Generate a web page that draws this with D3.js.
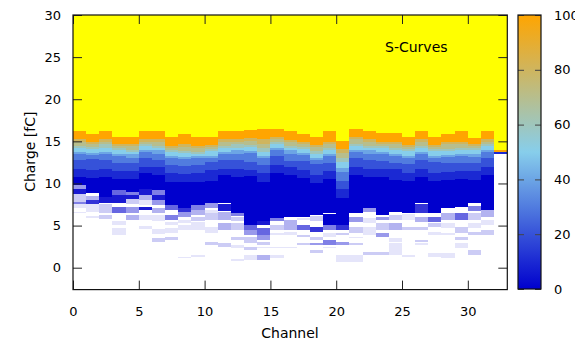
<!DOCTYPE html>
<html>
<head>
<meta charset="utf-8">
<script src="https://cdn.jsdelivr.net/npm/d3@7"></script>
<style>
  body { margin: 0; background: #fff; }
  text { font-family: "DejaVu Sans", sans-serif; fill: #000; }
</style>
</head>
<body>
<svg id="chart" width="575" height="344"></svg>
<script>
// channels on the x axis
const channels = [0,1,2,3,4,5,6,7,8,9,10,11,12,13,14,15,16,17,18,19,20,21,22,23,24,25,26,27,28,29,30,31,32];

// charge [fC] where the channel stops being fully efficient (yellow above)
const satCharge = [16.23,15.88,16.23,15.48,15.48,16.23,16.23,15.48,15.88,15.48,15.55,16.23,16.23,16.35,16.47,16.47,
  16.2,15.88,15.55,16.23,15.08,16.47,16.23,15.96,15.96,15.55,16.23,15.55,15.88,16.23,15.45,16.23,13.98];

// occupancy read every 0.25 fC going down from satCharge, one char per step: '0'..'9' = 0..90 %, 'A' = 100 %
const rowStep = 0.25;
const rowCodes = [
  "AAAA8776554333222211110",
  "AAAA876554332222211110",
  "AAAA8766554333222211110",
  "AAA876554333222211110",
  "AAA877654433222211110",
  "AAAA876554333222211100",
  "AAAA8776544333222111100",
  "AAAA876554333222211110",
  "AAAAA8776554333222211110",
  "AAAA877654333222211110",
  "AAAA876554332222111110",
  "AAAA8776554333222211100",
  "AAAA8766544333222211110",
  "AAAA8776554333322221110",
  "AAAAA887766554333222211110",
  "AAAA876554333222211110",
  "AAAA877654433322211110",
  "AAAA876554333222211110",
  "AAAA8776554332222211110",
  "AAAAA8776554333222211110",
  "AAAA887766555443333222211110",
  "AAAA8776554333222211110",
  "AAAA8776544333222211110",
  "AAAA876554333222211110",
  "AAAA8776554333222111110",
  "AAAA876554333222211110",
  "AAAA8776554333222211110",
  "AAAA876554332222211110",
  "AAAA8776554333222211110",
  "AAAAA8776554333222211110",
  "AAA876554333222211110",
  "AAAA876554333222211110",
  "A1"
];

// charge where the low-occupancy (0 %) band ends
const floorCharge = [9.8,8.9,8.4,9.2,9.0,9.4,9.2,7.4,7.1,7.45,7.65,7.73,6.5,5.1,5.5,5.9,6.0,6.0,6.26,6.45,5.07,
  6.46,7.05,6.26,6.66,6.46,7.65,6.46,7.05,7.25,7.65,6.86,13.48];

// sparse noise hits below threshold: [charge top, charge bottom, hits (0-10)]
const noiseHits = [
  [[9.8,9.4,4],[9.4,8.8,9],[8.75,8.2,2],[8.2,7.85,2],[7.85,7.55,5],[7.55,7.1,1],[6.6,6.45,1]],
  [[8.55,8.05,3],[8.05,7.55,8],[7.55,6.6,1],[6.1,5.9,1]],
  [[8.4,7.65,9],[7.55,7.05,2],[7.05,6.5,2],[6.25,5.8,2]],
  [[9.2,8.6,6],[8.6,7.7,9],[7.2,6.5,6],[5.6,5.1,1],[4.7,3.85,1]],
  [[9.0,8.6,5],[8.6,8.2,9],[8.2,7.6,2],[7.25,6.5,4],[6.3,5.7,3]],
  [[9.3,8.6,9],[8.6,8.05,3],[8.04,7.45,1],[7.25,6.86,9],[6.26,5.67,1],[4.9,4.6,1]],
  [[9.2,8.6,5],[8.6,8.0,9],[8.0,7.4,4],[7.05,6.45,3],[6.3,5.5,1],[4.6,4.0,1],[3.5,3.1,2]],
  [[7.4,6.9,6],[6.26,5.67,5],[5.47,5.07,1],[4.68,4.09,1],[3.69,3.29,2]],
  [[7.1,6.6,8],[6.6,6.05,4],[5.67,5.27,1],[5.07,4.48,1],[1.3,1.1,1]],
  [[7.45,6.9,5],[6.9,6.3,3],[6.0,5.5,2],[5.47,4.48,1],[1.5,1.3,1]],
  [[7.65,7.05,4],[6.9,6.5,1],[6.46,5.67,2],[4.88,4.09,1],[3.1,2.7,2]],
  [[7.55,6.7,9],[6.66,5.67,3],[5.27,4.48,3],[2.9,2.5,2]],
  [[6.48,6.1,5],[6.0,5.6,2],[5.27,4.48,2],[3.69,3.29,2],[2.7,2.3,1],[1.0,0.8,1]],
  [[5.07,4.5,6],[4.5,3.9,4],[3.69,2.9,2],[2.5,2.1,2],[1.5,0.9,1]],
  [[5.5,5.1,9],[4.68,3.89,6],[3.89,3.29,4],[3.1,2.7,2],[2.5,2.3,1],[1.51,0.92,3]],
  [[5.87,5.5,5],[5.07,4.48,2],[4.09,3.89,1],[2.5,2.3,1],[1.51,1.12,1]],
  [[5.67,4.48,3],[4.28,3.89,1],[2.5,2.3,1]],
  [[5.9,5.67,1],[5.07,4.48,6],[3.89,3.69,2],[2.9,2.7,2]],
  [[6.1,5.5,2],[4.88,4.28,8],[3.69,3.29,2],[2.9,2.7,4],[2.11,1.71,2]],
  [[6.35,5.1,10],[5.07,4.48,5],[4.09,3.69,1],[3.29,2.7,5],[2.5,2.3,1]],
  [[5.07,4.48,8],[4.09,3.89,2],[3.1,2.7,4],[1.51,0.72,1]],
  [[6.06,5.47,4],[4.88,4.09,2],[3.69,3.49,1],[2.9,2.7,2],[1.51,0.72,1]],
  [[7.05,6.6,4],[5.87,5.27,1],[4.88,3.89,1],[1.9,1.5,2]],
  [[6.06,5.67,4],[5.27,4.48,2],[4.09,3.69,4],[1.91,1.51,2]],
  [[6.26,5.67,2],[5.27,4.48,3],[3.49,3.1,1],[2.9,1.51,1]],
  [[6.4,5.67,1],[4.88,4.48,2],[1.5,1.3,1]],
  [[7.55,6.5,8],[6.06,5.47,3],[4.88,4.48,2],[3.29,3.1,2],[2.9,2.7,1]],
  [[6.06,5.47,6],[5.27,4.88,2],[4.28,3.89,1],[1.71,1.32,1]],
  [[6.46,5.67,3],[5.27,4.68,1],[4.09,3.89,1],[1.71,1.12,1]],
  [[6.46,5.67,6],[4.88,4.09,2],[3.69,3.29,2],[2.9,2.3,1]],
  [[7.3,6.7,5],[6.46,5.67,2],[5.27,4.68,1],[4.28,3.89,2],[2.11,1.51,2]],
  [[6.86,6.06,3],[5.67,5.07,1],[4.48,3.89,2]],
  []
];

const xTicks = [0,5,10,15,20,25,30];
const yTicks = [0,5,10,15,20,25,30];
const cbTicks = [0,20,40,60,80,100];

const svg = d3.select("#chart");

const x = d3.scaleLinear().domain([0, 33]).range([73, 507.3]);
const y = d3.scaleLinear().domain([-2.6, 30]).range([289.6, 15]);
// palette: 0 -> blue, 50 -> sky blue, 100 -> orange
const color = d3.scaleLinear().domain([0, 50, 100]).range(["#0000cd", "#87ceeb", "#ffa500"]);
const codeValue = c => "0123456789A".indexOf(c) * 10;

// build the cells
const cells = [];
channels.forEach(ch => {
  const s = satCharge[ch];
  const codes = rowCodes[ch];
  for (let j = 0; j < codes.length; j++) {
    cells.push({ ch: ch, top: s - j * rowStep, bottom: s - (j + 1) * rowStep, v: codeValue(codes[j]) });
  }
  const last = s - codes.length * rowStep;
  if (last > floorCharge[ch]) cells.push({ ch: ch, top: last, bottom: floorCharge[ch], v: 0 });
});
const noise = [];
channels.forEach(ch => noiseHits[ch].forEach(n => noise.push({ ch: ch, top: n[0], bottom: n[1], hits: n[2] })));

const px = v => Math.round(x(v));
const py = v => Math.round(y(v));

const plot = svg.append("g").attr("shape-rendering", "crispEdges");

// saturated region
plot.selectAll(".sat")
  .data(channels)
  .join("rect")
  .attr("class", "sat")
  .attr("x", d => px(d))
  .attr("width", d => px(d + 1) - px(d))
  .attr("y", py(30))
  .attr("height", d => py(satCharge[d]) - py(30))
  .attr("fill", "#ffff00");

plot.selectAll(".cell")
  .data(cells)
  .join("rect")
  .attr("class", "cell")
  .attr("x", d => px(d.ch))
  .attr("width", d => px(d.ch + 1) - px(d.ch))
  .attr("y", d => py(d.top))
  .attr("height", d => Math.max(1, py(d.bottom) - py(d.top)))
  .attr("fill", d => color(d.v));

plot.selectAll(".noise")
  .data(noise)
  .join("rect")
  .attr("class", "noise")
  .attr("x", d => px(d.ch))
  .attr("width", d => px(d.ch + 1) - px(d.ch))
  .attr("y", d => py(d.top))
  .attr("height", d => Math.max(1, py(d.bottom) - py(d.top)))
  .attr("fill", "#0000cd")
  .attr("fill-opacity", d => d.hits / 10);

// axes (ticks pointing inwards, gnuplot style)
const styleAxis = g => {
  g.select(".domain").remove();
  g.selectAll("line").attr("stroke", "#222");
  g.selectAll("text").style("font-size", "13px").attr("fill", "#000");
};

svg.append("g")
  .attr("transform", "translate(0," + y(-2.6) + ")")
  .call(d3.axisBottom(x).tickValues(xTicks).tickSizeInner(-9).tickSizeOuter(0).tickPadding(17))
  .call(styleAxis);
svg.append("g")
  .attr("transform", "translate(0," + y(30) + ")")
  .call(d3.axisTop(x).tickValues(xTicks).tickSizeInner(-9).tickSizeOuter(0).tickFormat(""))
  .call(styleAxis);
svg.append("g")
  .attr("transform", "translate(" + x(0) + ",0)")
  .call(d3.axisLeft(y).tickValues(yTicks).tickSizeInner(-9).tickSizeOuter(0).tickPadding(12))
  .call(styleAxis);
svg.append("g")
  .attr("transform", "translate(" + x(33) + ",0)")
  .call(d3.axisRight(y).tickValues(yTicks).tickSizeInner(-9).tickSizeOuter(0).tickFormat(""))
  .call(styleAxis);

svg.append("rect")
  .attr("x", x(0)).attr("y", y(30))
  .attr("width", x(33) - x(0)).attr("height", y(-2.6) - y(30))
  .attr("fill", "none").attr("stroke", "#111").attr("stroke-width", 1.2);

// axis titles and key
svg.append("text")
  .attr("x", 290).attr("y", 338)
  .attr("text-anchor", "middle").style("font-size", "14px")
  .text("Channel");
svg.append("text")
  .attr("transform", "translate(35,151.7) rotate(-90)")
  .attr("text-anchor", "middle").style("font-size", "14px")
  .text("Charge [fC]");
svg.append("text")
  .attr("x", 385).attr("y", 51.5)
  .style("font-size", "14px")
  .text("S-Curves");

// colour box
const cb = d3.scaleLinear().domain([0, 100]).range([289, 15]);
const grad = svg.append("defs").append("linearGradient")
  .attr("id", "cbgrad").attr("x1", 0).attr("y1", 1).attr("x2", 0).attr("y2", 0);
grad.selectAll("stop")
  .data(d3.range(0, 101, 5))
  .join("stop")
  .attr("offset", d => d / 100)
  .attr("stop-color", d => color(d));

svg.append("rect")
  .attr("x", 518).attr("y", cb(100))
  .attr("width", 23).attr("height", cb(0) - cb(100))
  .attr("fill", "url(#cbgrad)");

const styleCb = g => {
  g.select(".domain").remove();
  g.selectAll("line").attr("stroke", "#444");
  g.selectAll("text").style("font-size", "13px").attr("fill", "#000");
};
svg.append("g")
  .attr("transform", "translate(541,0)")
  .call(d3.axisRight(cb).tickValues(cbTicks).tickSizeInner(-6).tickSizeOuter(0).tickPadding(13))
  .call(styleCb);
svg.append("g")
  .attr("transform", "translate(518,0)")
  .call(d3.axisLeft(cb).tickValues(cbTicks).tickSizeInner(-6).tickSizeOuter(0).tickFormat(""))
  .call(styleCb);

svg.append("rect")
  .attr("x", 518).attr("y", cb(100))
  .attr("width", 23).attr("height", cb(0) - cb(100))
  .attr("fill", "none").attr("stroke", "#111").attr("stroke-width", 1.2);
</script>
</body>
</html>
